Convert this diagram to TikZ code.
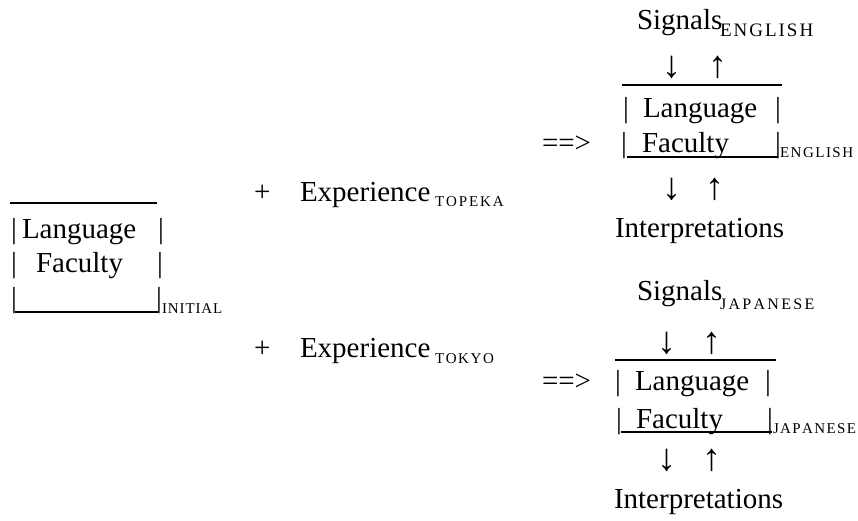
\documentclass[tikz,border=0pt]{standalone}
\usepackage{fontspec}
\setmainfont{Liberation Serif}
\makeatletter
\newcommand\trk[2]{\@tempswafalse\@tfor\trk@c:=#2\do{\if@tempswa\kern#1\fi\@tempswatrue\trk@c}}
\makeatother
\begin{document}
\begin{tikzpicture}[x=1pt,y=-1pt,
  txt/.style={inner sep=0pt,outer sep=0pt,anchor=base west,font=\fontsize{29}{31}\selectfont},
  sub/.style={inner sep=0pt,outer sep=0pt,anchor=base west,font=\fontsize{#1}{#1}\selectfont},
  arr/.style={inner sep=0pt,outer sep=0pt,anchor=base,font=\fontsize{38}{40}\selectfont},
  rule/.style={line width=2pt},
  thinrule/.style={line width=1.3pt}]
\useasboundingbox (0,0) rectangle (858,521);
% ---- left: initial faculty ----
\coordinate (lt1) at (10,203); \coordinate (lt2) at (157,203);
\draw[thinrule] (lt1) -- (lt2);
\node[txt] (lb1) at (11,238) {|};
\node[txt] (llang) at (22,238) {Language};
\node[txt] (rb1) at (158,238) {|};
\node[txt] (lb2) at (11,272) {|};
\node[txt] (lfac) at (36,272) {Faculty};
\node[txt] (rb2) at (157,272) {|};
\node[txt] (lb3) at (11,307) {|};
\node[txt] (rb3) at (156,307) {|};
\coordinate (lu1) at (15,312); \coordinate (lu2) at (158,312);
\draw[rule] (lu1) -- (lu2);
\node[sub=15] (init) at (162,313) {\trk{0.9pt}{INITIAL}};
% ---- middle ----
\node[txt] (plus1) at (254,202) {+};
\node[txt] (exp1) at (300,202) {Experience};
\node[sub=15] (topeka) at (435,207) {\trk{1.9pt}{TOPEKA}};
\node[txt] (plus2) at (254,357) {+};
\node[txt] (exp2) at (300,357) {Experience};
\node[sub=15] (tokyo) at (435,363) {\trk{1.6pt}{TOKYO}};
% ---- right top: English ----
\node[txt] (sig1) at (637,30) {Signals};
\node[sub=19] (eng1) at (720,37) {\trk{2pt}{ENGLISH}};
\node[arr] (da1) at (672,78) {↓};
\node[arr] (ua1) at (718,78) {↑};
\coordinate (et1) at (622,85); \coordinate (et2) at (782,85);
\draw[rule] (et1) -- (et2);
\node[txt] (eb1) at (623,118) {|};
\node[txt] (elang) at (643,118) {Language};
\node[txt] (eb2) at (775,118) {|};
\node[txt] (imp1) at (542,153) {==>};
\node[txt] (eb3) at (621,153) {|};
\node[txt] (efac) at (642,153) {Faculty};
\node[txt] (eb4) at (775,153) {|};
\coordinate (eu1) at (627,157); \coordinate (eu2) at (778,157);
\draw[rule] (eu1) -- (eu2);
\node[sub=15] (eng2) at (780,158) {\trk{1.5pt}{ENGLISH}};
\node[arr] (da2) at (672,200) {↓};
\node[arr] (ua2) at (715,200) {↑};
\node[txt] (int1) at (615,237) {Interpretations};
% ---- right bottom: Japanese ----
\node[txt] (sig2) at (637,300) {Signals};
\node[sub=16] (jap1) at (720,309) {\trk{2.3pt}{JAPANESE}};
\node[arr] (da3) at (667,353) {↓};
\node[arr] (ua3) at (712,353) {↑};
\coordinate (jt1) at (615,360); \coordinate (jt2) at (776,360);
\draw[rule] (jt1) -- (jt2);
\node[txt] (imp2) at (542,390) {==>};
\node[txt] (jb1) at (615,390) {|};
\node[txt] (jlang) at (635,390) {Language};
\node[txt] (jb2) at (765,390) {|};
\node[txt] (jb3) at (616,428) {|};
\node[txt] (jfac) at (636,428) {Faculty};
\node[txt] (jb4) at (767,428) {|};
\coordinate (ju1) at (621,432); \coordinate (ju2) at (772,432);
\draw[rule] (ju1) -- (ju2);
\node[sub=15] (jap2) at (773,433) {\trk{1.4pt}{JAPANESE}};
\node[arr] (da4) at (667,470) {↓};
\node[arr] (ua4) at (712,470) {↑};
\node[txt] (int2) at (614,508) {Interpretations};
\end{tikzpicture}
\end{document}
